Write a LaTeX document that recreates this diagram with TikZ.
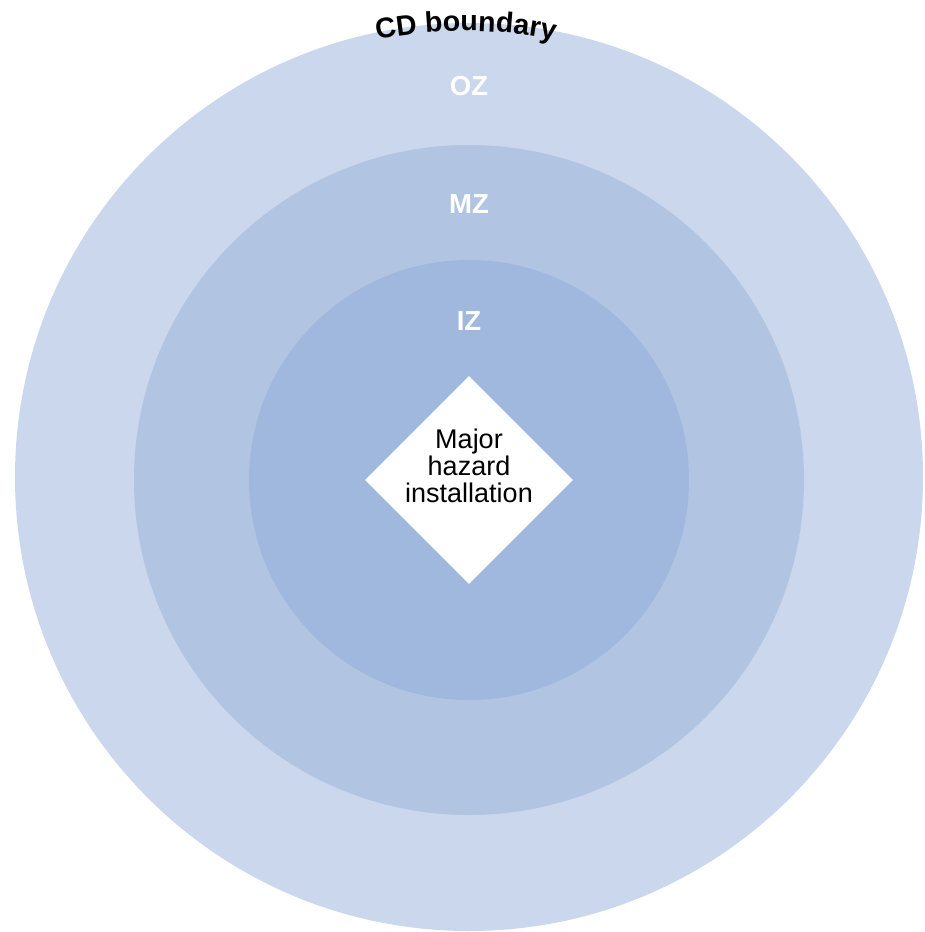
\documentclass[tikz,border=0pt]{standalone}
\usepackage{fontspec}
\setmainfont{Liberation Sans}
\usetikzlibrary{shapes.geometric,decorations.text}
\definecolor{ozcol}{RGB}{202,215,236}
\definecolor{mzcol}{RGB}{177,197,226}
\definecolor{izcol}{RGB}{160,184,222}
\tikzset{
  zone/.style={circle, inner sep=0pt, draw=none},
  zonelabel/.style={text=white, font=\fontsize{27.5}{27.5}\selectfont\bfseries, inner sep=0pt},
  hazard/.style={diamond, fill=white, draw=none, minimum size=208pt, inner sep=0pt},
  hazardtext/.style={align=center, font=\fontsize{27}{27}\selectfont, inner sep=0pt, text=black}
}
\begin{document}
\begin{tikzpicture}[x=1pt,y=1pt]
\clip (0,0) rectangle (924,-932);
\fill[white] (0,0) rectangle (924,-932);
\node[zone, fill=ozcol, minimum size=908pt] (oz) at (469,-477) {};
\node[zone, fill=mzcol, minimum size=670pt] (mz) at (469,-480) {};
\node[zone, fill=izcol, minimum size=440pt] (iz) at (469,-480) {};
\node[hazard] (mhi) at (469,-480) {};
\node[hazardtext] (mhitext) at (469,-466) {Major\\hazard\\installation};
\node[zonelabel] (ozl) at (469,-86) {OZ};
\node[zonelabel] (mzl) at (469,-204) {MZ};
\node[zonelabel] (izl) at (469,-321) {IZ};
\coordinate (cdc) at (466,-477);
\path[decorate, decoration={text along path, text align=center,
  text={|\fontsize{28.5}{28.5}\selectfont\bfseries|CD boundary}}]
  (cdc) ++(115:446) arc[start angle=115, end angle=65, radius=446];
\end{tikzpicture}
\end{document}
